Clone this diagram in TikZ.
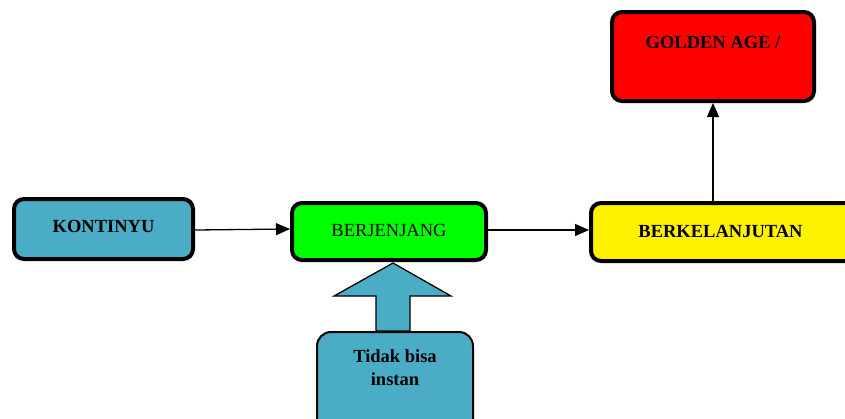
\documentclass[tikz,border=0pt]{standalone}
\usepackage{fontspec}
\setmainfont{Liberation Serif}
\usetikzlibrary{arrows.meta}
\definecolor{boxblue}{HTML}{4BACC6}
\tikzset{
  bigbox/.style={draw=black, line width=4pt, rounded corners=10pt, inner sep=0pt,
    font=\fontsize{18.5}{22}\selectfont\bfseries, align=center},
  conn/.style={line width=1.3pt, -{Triangle[length=14pt,width=12pt]}},
}
\begin{document}
\begin{tikzpicture}[x=1pt,y=-1pt]
\useasboundingbox (0,0) rectangle (845,418);
\clip (0,0) rectangle (845,418);
\node[bigbox, fill=boxblue, minimum width=179pt, minimum height=60pt] (kont) at (103.5,229) {\raisebox{6pt}{KONTINYU}};
\node[bigbox, fill=green, minimum width=194pt, minimum height=57pt, font=\fontsize{18.5}{22}\selectfont] (berj) at (389,231.5) {\raisebox{3pt}{BERJENJANG}};
\node[bigbox, fill=yellow, minimum width=270pt, minimum height=58pt, anchor=west] (berk) at (589,232) {\hspace{-11pt}\raisebox{2pt}{BERKELANJUTAN}};
\node[bigbox, fill=red, minimum width=202pt, minimum height=89pt] (gold) at (713,56.5) {\raisebox{28pt}{GOLDEN AGE /}};
\node[draw=black, line width=2pt, fill=boxblue, rounded corners=14pt, minimum width=156pt, minimum height=110pt, font=\fontsize{18.5}{23}\selectfont\bfseries, align=center, anchor=north] (tidak) at (395,331) {Tidak bisa\\instan\\[16pt]};
\coordinate (tip) at (393,263);
\draw[line width=1.3pt, fill=boxblue, line join=miter]
  (tip) -- (451,296) -- (410,296) -- (410,331) -- (376,331) -- (376,296) -- (334,296) -- cycle;
\draw[conn] (kont.east |- 0,230) -- (berj.west |- 0,229);
\draw[conn] (berj.east |- 0,230) -- (berk.west |- 0,230);
\draw[conn] (713,201) -- (gold.south |- 0,103);
\end{tikzpicture}
\end{document}
